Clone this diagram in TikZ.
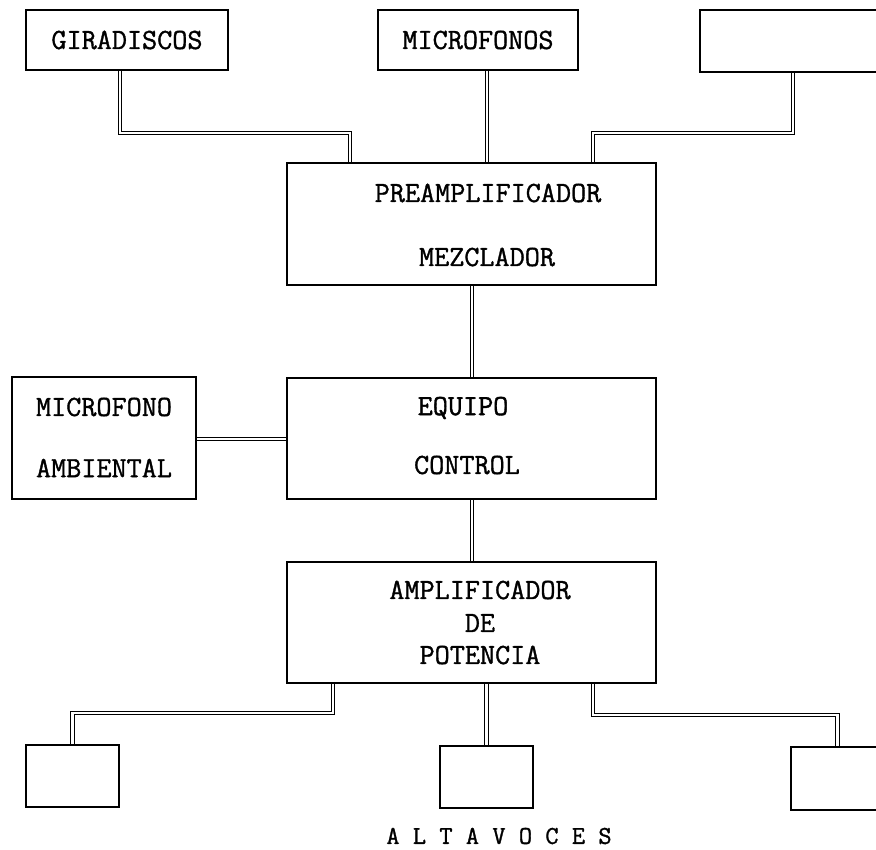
\documentclass[tikz,border=0pt]{standalone}
\usepackage{fontspec}
\newfontfamily\diagfont{Latin Modern Mono}[FakeBold=1.2]
\begin{document}
\begin{tikzpicture}[x=0.75pt,y=-0.75pt,
  box/.style 2 args={draw,line width=1.5pt,inner sep=0pt,minimum width=#1*0.75pt,minimum height=#2*0.75pt},
  wire/.style={double,double distance=1.6pt,line width=0.95pt},
  lbl/.style={inner sep=0pt,font=\diagfont\fontsize{22}{26}\selectfont},
  bigl/.style={inner sep=0pt,font=\diagfont\fontsize{19.3}{23}\selectfont}]
\clip (0,0) rectangle (876,850);
\fill[white] (0,0) rectangle (876,850);
% boxes
\node[box={202}{60}] (gir) at (127,40) {};
\node[box={200}{60}] (mic) at (478,40) {};
\node[box={184}{62}] (ext) at (792,41) {};
\node[box={369}{122}] (pre) at (471.5,224) {};
\node[box={184}{122}] (amb) at (104,438) {};
\node[box={369}{121}] (eq) at (471.5,438.5) {};
\node[box={369}{121}] (amp) at (471.5,622.5) {};
\node[box={93}{62}] (s1) at (72.5,776) {};
\node[box={93}{62}] (s2) at (486.5,777) {};
\node[box={93}{63}] (s3) at (837.5,778.5) {};
% labels
\node[lbl] (tgir) at (127,40) {GIRADISCOS};
\node[lbl] (tmic) at (478,40) {MICROFONOS};
\node[lbl] (tpre1) at (488,193) {PREAMPLIFICADOR};
\node[lbl] (tpre2) at (487,257) {MEZCLADOR};
\node[lbl] (tamb1) at (104,407) {MICROFONO};
\node[lbl] (tamb2) at (104,468) {AMBIENTAL};
\node[lbl] (teq1) at (463,408) {EQUIPO};
\node[lbl] (teq2) at (467,465) {CONTROL};
\node[lbl] (tamp1) at (480,590) {AMPLIFICADOR};
\node[lbl] (tamp2) at (480,623) {DE};
\node[lbl] (tamp3) at (480,655) {POTENCIA};
\node[bigl] (talt) at (499,836) {A L T A V O C E S};
% connectors
\draw[wire] (120,0 |- gir.south) |- (350,133) -- (350,0 |- pre.north);
\draw[wire] (487,0 |- mic.south) -- (487,0 |- pre.north);
\draw[wire] (793,0 |- ext.south) |- (593,133) -- (593,0 |- pre.north);
\draw[wire] (472,0 |- pre.south) -- (472,0 |- eq.north);
\draw[wire] (amb.east |- 0,439) -- (eq.west |- 0,439);
\draw[wire] (472,0 |- eq.south) -- (472,0 |- amp.north);
\draw[wire] (333,0 |- amp.south) |- (72.5,713) -- (s1.north);
\draw[wire] (486.5,0 |- amp.south) -- (s2.north);
\draw[wire] (593,0 |- amp.south) |- (837.5,715) -- (s3.north);
\end{tikzpicture}
\end{document}
